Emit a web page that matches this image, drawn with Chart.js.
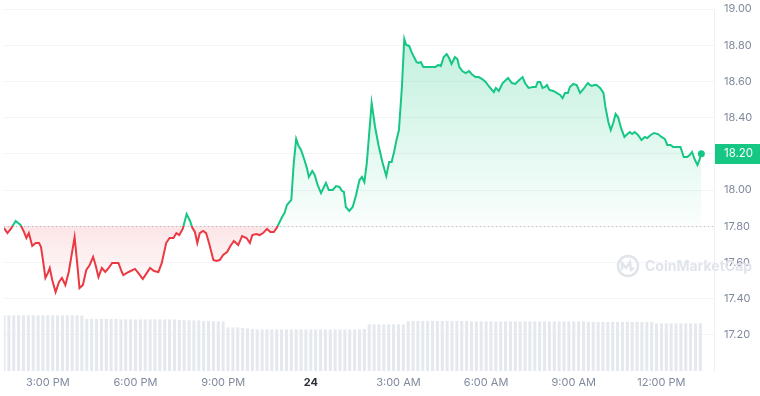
<!DOCTYPE html>
<html>
<head>
<meta charset="utf-8">
<script src="https://cdn.jsdelivr.net/npm/chart.js@4.4.0/dist/chart.umd.min.js"></script>
<style>
  html, body { margin: 0; padding: 0; background: #fff; }
  #wrap { width: 760px; height: 396px; position: relative; }
</style>
</head>
<body>
<div id="wrap"><canvas id="grafico"></canvas></div>
<script>
// minutes after 13:30 (day 23) and the price read at that moment
const priceTimes = [
  0, 7, 14, 24, 34, 41, 46, 51, 58, 65, 72, 76, 80, 85, 90, 94, 99, 106, 113, 119,
  126, 133, 145, 151, 155, 162, 169, 176, 183, 188, 194, 201, 208, 215, 222, 228, 235, 242,
  245, 256, 269, 276, 285, 293, 300, 308, 317, 324, 333, 340, 348, 354, 360, 367, 375, 382,
  387, 392, 397, 402, 409, 415, 421, 430, 436, 443, 450, 458, 465, 472, 481, 489, 498, 505,
  510, 518, 525, 532, 540, 547, 554, 560, 566,
  571, 576, 581, 590, 595, 600, 605, 610, 617, 622, 626, 633, 638, 644, 651, 656, 661, 667,
  675, 682, 689, 694, 698, 702, 709, 716, 723, 730, 735, 740, 745, 750, 755, 762, 769, 777,
  785, 791, 796, 801, 806, 811, 817, 822,
  826, 832, 837, 842, 847, 851, 856, 861, 866, 873, 880, 886, 892, 897, 903, 909, 914, 919,
  926, 931, 935, 941, 948, 955, 960, 968, 975, 982, 989, 997, 1006, 1010, 1016, 1024, 1035,
  1043, 1050, 1058, 1065, 1070, 1077, 1086, 1092, 1096, 1101, 1106, 1111, 1115, 1120, 1128,
  1135, 1142, 1147, 1152, 1158, 1162, 1169, 1176, 1183, 1190, 1199, 1203, 1207, 1212, 1217,
  1224, 1231, 1235, 1241, 1246, 1251, 1256, 1261, 1267, 1274, 1278, 1285, 1290, 1295, 1302,
  1309, 1316, 1321, 1328, 1335, 1343, 1350, 1357, 1362, 1369, 1374, 1383, 1389, 1396, 1403,
  1408, 1413, 1418, 1424, 1428, 1432
];
const priceValues = [
  17.790, 17.762, 17.785, 17.829, 17.807, 17.768, 17.735, 17.762, 17.691, 17.707, 17.707, 17.685, 17.613, 17.514, 17.541, 17.569, 17.503, 17.436, 17.492, 17.514,
  17.475, 17.547, 17.740, 17.575, 17.458, 17.475, 17.558, 17.586, 17.630, 17.586, 17.519, 17.569, 17.547, 17.569, 17.597, 17.597, 17.597, 17.547,
  17.530, 17.547, 17.564, 17.541, 17.508, 17.541, 17.569, 17.552, 17.547, 17.597, 17.707, 17.735, 17.735, 17.762, 17.751, 17.785, 17.867, 17.829,
  17.790, 17.768, 17.707, 17.762, 17.774, 17.762, 17.707, 17.613, 17.608, 17.613, 17.641, 17.657, 17.691, 17.718, 17.696, 17.746, 17.735, 17.707,
  17.751, 17.757, 17.751, 17.762, 17.785, 17.768, 17.768, 17.790, 17.823,
  17.851, 17.873, 17.917, 17.945, 18.149, 18.282, 18.243, 18.221, 18.166, 18.121, 18.072, 18.105, 18.083, 18.028, 17.983, 18.011, 18.039, 18.000,
  18.000, 18.022, 18.017, 17.995, 17.989, 17.906, 17.884, 17.906, 17.972, 18.055, 18.072, 18.044, 18.149, 18.315, 18.481, 18.348, 18.249, 18.155,
  18.077, 18.155, 18.155, 18.210, 18.276, 18.331, 18.564, 18.834,
  18.801, 18.796, 18.762, 18.735, 18.707, 18.702, 18.707, 18.680, 18.680, 18.680, 18.680, 18.680, 18.691, 18.685, 18.735, 18.751, 18.729, 18.696,
  18.735, 18.724, 18.680, 18.657, 18.646, 18.657, 18.641, 18.624, 18.624, 18.613, 18.597, 18.569, 18.541, 18.564, 18.547, 18.591, 18.619,
  18.591, 18.586, 18.608, 18.624, 18.591, 18.564, 18.569, 18.569, 18.597, 18.597, 18.564, 18.569, 18.580, 18.553, 18.547,
  18.536, 18.525, 18.508, 18.536, 18.536, 18.569, 18.586, 18.580, 18.536, 18.558, 18.591, 18.580, 18.575, 18.580, 18.580,
  18.564, 18.536, 18.459, 18.376, 18.331, 18.370, 18.420, 18.403, 18.343, 18.293, 18.304, 18.320, 18.309, 18.320, 18.304,
  18.276, 18.293, 18.287, 18.304, 18.315, 18.309, 18.293, 18.282, 18.249, 18.249, 18.238, 18.238, 18.238, 18.182, 18.182,
  18.193, 18.210, 18.171, 18.138, 18.166, 18.200
];

// volume, one bar every 10 minutes from 13:30
const volumeValues = [
  11.0, 11.0, 11.0, 11.0, 11.0, 11.0, 11.0, 11.0, 11.0, 11.0, 11.0, 11.0,
  11.0, 11.0, 11.0, 11.0, 11.0, 10.3, 10.3, 10.3, 10.3, 10.3, 10.3, 10.3,
  10.2, 10.2, 10.2, 10.2, 10.2, 10.2, 10.2, 10.2, 10.2, 10.2, 10.2, 10.2,
  10.1, 10.1, 10.0, 10.0, 10.0, 9.9, 9.9, 9.8, 9.8, 9.8, 8.6, 8.6,
  8.6, 8.5, 8.4, 8.3, 8.2, 8.2, 8.2, 8.2, 8.2, 8.2, 8.2, 8.2,
  8.2, 8.2, 8.2, 8.2, 8.2, 8.2, 8.2, 8.2, 8.2, 8.2, 8.2, 8.2,
  8.2, 8.2, 8.3, 9.2, 9.2, 9.2, 9.2, 9.2, 9.2, 9.2, 9.2, 9.8,
  9.9, 9.9, 9.9, 9.9, 9.9, 9.9, 9.9, 9.9, 9.9, 9.9, 9.9, 9.9,
  9.8, 9.8, 9.8, 9.8, 9.8, 9.8, 9.8, 9.8, 9.8, 9.8, 9.8, 9.8,
  9.8, 9.8, 9.8, 9.8, 9.8, 9.8, 9.8, 9.8, 9.8, 9.8, 9.8, 9.8,
  9.7, 9.7, 9.7, 9.7, 9.7, 9.7, 9.7, 9.7, 9.7, 9.7, 9.7, 9.7,
  9.7, 9.7, 9.4, 9.4, 9.4, 9.4, 9.4, 9.4, 9.4, 9.4, 9.4, 9.4
];

const xTickMinutes = [90, 270, 450, 630, 810, 990, 1170, 1350];
const xTickLabels = ['3:00 PM', '6:00 PM', '9:00 PM', '24', '3:00 AM', '6:00 AM', '9:00 AM', '12:00 PM'];
const yTickValues = [17.2, 17.4, 17.6, 17.8, 18.0, 18.2, 18.4, 18.6, 18.8, 19.0];
const baseline = 17.80;

const verde = '#16c784';
const vermelho = '#ea3943';
const cinza = '#808a9d';

const pricePoints = priceTimes.map((t, i) => ({ x: t, y: priceValues[i] }));
const volumePoints = volumeValues.map((v, i) => ({ x: i * 10, y: v }));

function baseFrac(chart) {
  const a = chart.chartArea;
  const yb = chart.scales.y.getPixelForValue(baseline);
  return Math.min(1, Math.max(0, (yb - a.top) / (a.bottom - a.top)));
}

function corLinha(ctx) {
  const chart = ctx.chart;
  if (!chart.chartArea) return verde;
  const a = chart.chartArea;
  const t = baseFrac(chart);
  const g = chart.ctx.createLinearGradient(0, a.top, 0, a.bottom);
  g.addColorStop(0, verde);
  g.addColorStop(t, verde);
  g.addColorStop(t, vermelho);
  g.addColorStop(1, vermelho);
  return g;
}

function corFundo(ctx) {
  const chart = ctx.chart;
  if (!chart.chartArea) return 'rgba(22,199,132,0.1)';
  const a = chart.chartArea;
  const t = baseFrac(chart);
  const g = chart.ctx.createLinearGradient(0, a.top, 0, a.bottom);
  g.addColorStop(0, 'rgba(22,199,132,0.30)');
  g.addColorStop(t, 'rgba(22,199,132,0.02)');
  g.addColorStop(t, 'rgba(234,57,67,0.13)');
  g.addColorStop(Math.min(1, t + 0.2), 'rgba(234,57,67,0.0)');
  g.addColorStop(1, 'rgba(234,57,67,0.0)');
  return g;
}

// dotted baseline, watermark and the current price tag
const extras = {
  id: 'extras',
  beforeDatasetsDraw(chart) {
    const { ctx, chartArea: a, scales } = chart;
    const yb = Math.round(scales.y.getPixelForValue(baseline)) + 0.5;
    ctx.save();
    ctx.strokeStyle = '#b8bfcc';
    ctx.lineWidth = 1;
    ctx.setLineDash([1, 3]);
    ctx.beginPath();
    ctx.moveTo(a.left, yb);
    ctx.lineTo(a.right, yb);
    ctx.stroke();
    ctx.restore();

    // watermark
    ctx.save();
    const wy = scales.y.getPixelForValue(17.58);
    ctx.strokeStyle = '#e1e5eb';
    ctx.lineWidth = 2.6;
    ctx.beginPath();
    ctx.arc(628, wy, 10, 0, Math.PI * 2);
    ctx.stroke();
    ctx.lineWidth = 2.4;
    ctx.beginPath();
    ctx.moveTo(622, wy + 4);
    ctx.lineTo(622, wy - 3);
    ctx.lineTo(626, wy + 2);
    ctx.lineTo(630, wy - 4);
    ctx.lineTo(631, wy + 4);
    ctx.lineTo(634, wy + 2);
    ctx.stroke();
    ctx.fillStyle = '#e1e5eb';
    ctx.font = 'bold 14px Inter, "Open Sans", sans-serif';
    ctx.textBaseline = 'middle';
    ctx.fillText('CoinMarketCap', 645, wy + 1);
    ctx.restore();
  },
  afterDraw(chart) {
    const { ctx, chartArea: a, scales } = chart;
    const ultimo = priceValues[priceValues.length - 1];
    const y = scales.y.getPixelForValue(ultimo);
    ctx.save();
    ctx.fillStyle = verde;
    ctx.fillRect(a.right + 1, Math.round(y) - 10, 760 - a.right - 1, 20);
    ctx.fillStyle = '#ffffff';
    ctx.font = '11.5px Inter, sans-serif';
    ctx.textBaseline = 'middle';
    ctx.fillText(ultimo.toFixed(2), a.right + 10, Math.round(y));
    ctx.restore();
  }
};

const ctx = document.getElementById('grafico').getContext('2d');
new Chart(ctx, {
  data: {
    datasets: [
      {
        type: 'line',
        data: pricePoints,
        order: 1,
        yAxisID: 'y',
        borderColor: corLinha,
        backgroundColor: corFundo,
        borderWidth: 2,
        tension: 0,
        fill: { target: { value: baseline } },
        pointRadius: c => (c.dataIndex === pricePoints.length - 1 ? 3.5 : 0),
        pointBackgroundColor: verde,
        pointBorderColor: verde,
        pointBorderWidth: 0
      },
      {
        type: 'bar',
        data: volumePoints,
        order: 2,
        yAxisID: 'yVol',
        backgroundColor: '#e5e8ed',
        barThickness: 2.4
      }
    ]
  },
  options: {
    responsive: true,
    maintainAspectRatio: false,
    animation: false,
    layout: { padding: { top: 9, left: 0, right: 0, bottom: 0 } },
    plugins: { legend: { display: false }, tooltip: { enabled: false } },
    scales: {
      x: {
        type: 'linear',
        offset: false,
        min: 0,
        max: 1458,
        grid: { display: false, drawTicks: false },
        border: { display: false },
        afterBuildTicks: s => { s.ticks = xTickMinutes.map(v => ({ value: v })); },
        afterFit: s => { s.height = 25; s.paddingLeft = 0; s.paddingRight = 0; },
        ticks: {
          autoSkip: false,
          maxRotation: 0,
          padding: 5,
          color: c => (c.tick && c.tick.value === 630 ? '#2b2f38' : cinza),
          font: c => ({
            family: 'Inter, sans-serif',
            size: 11,
            weight: c.tick && c.tick.value === 630 ? 'bold' : 'normal'
          }),
          callback: v => xTickLabels[xTickMinutes.indexOf(v)]
        }
      },
      y: {
        position: 'right',
        min: 17,
        max: 19,
        afterBuildTicks: s => { s.ticks = yTickValues.map(v => ({ value: v })); },
        afterFit: s => { s.width = 46; s.paddingTop = 0; s.paddingBottom = 0; },
        grid: { color: '#f3f4f7', drawTicks: false },
        border: { display: true, color: '#eef0f4' },
        ticks: {
          padding: 10,
          color: cinza,
          font: { family: 'Inter, sans-serif', size: 11 },
          callback: v => Number(v).toFixed(2)
        }
      },
      yVol: {
        display: false,
        min: 0,
        max: 72
      }
    }
  },
  plugins: [extras]
});
</script>
</body>
</html>
